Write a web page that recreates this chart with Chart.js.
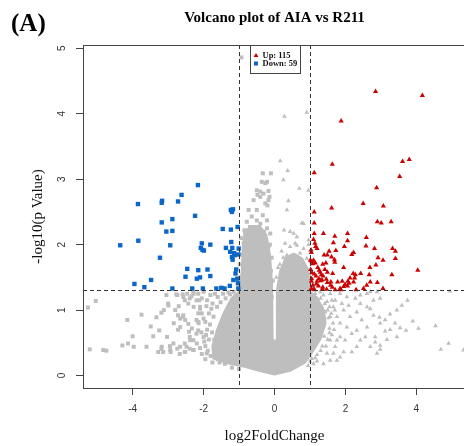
<!DOCTYPE html>
<html>
<head>
<meta charset="utf-8">
<script src="https://cdn.jsdelivr.net/npm/chart.js@4.4.1/dist/chart.umd.min.js"></script>
<style>
  html, body { margin: 0; padding: 0; background: #fff; overflow: hidden; }
  #wrap { position: absolute; left: 0; top: 0; width: 470px; height: 446px; }
</style>
</head>
<body>
<div id="wrap"><canvas id="volcano" width="470" height="446"></canvas></div>
<script>
// thresholds used for the dashed lines
const fcCutoff = 1;
const pCutoff = 1.3;

const xTicks = [-4, -2, 0, 2, 4];
const yTicks = [0, 1, 2, 3, 4, 5];

const upCount = 115;
const downCount = 59;

// significant, up-regulated genes [log2FC, -log10 p]
const upPoints = [
  [2.85, 4.34], [4.17, 4.28], [1.88, 3.89], [1.63, 3.23], [3.61, 3.27], [3.80, 3.30],
  [1.12, 3.10], [3.53, 3.04], [2.88, 2.87], [2.50, 2.63], [3.07, 2.59], [1.61, 2.56],
  [1.12, 2.50], [1.12, 2.33], [2.90, 2.35], [3.01, 2.33], [3.29, 2.35], [1.12, 2.17],
  [1.38, 2.17], [1.70, 2.13], [2.06, 2.17], [2.59, 2.11], [1.10, 2.08], [1.14, 2.02],
  [1.16, 1.97], [1.66, 2.03], [2.06, 2.06], [2.58, 1.98], [1.97, 1.97], [1.20, 1.94],
  [2.82, 1.94], [3.33, 1.94], [3.41, 1.90], [1.54, 1.90], [1.73, 1.91], [1.03, 1.92],
  [1.40, 1.84], [1.49, 1.84], [1.61, 1.81], [1.69, 1.77], [2.18, 1.85], [2.23, 1.88],
  [2.92, 1.80], [3.06, 1.76], [3.41, 1.79], [1.01, 1.76], [1.05, 1.74], [1.10, 1.76],
  [1.15, 1.72], [1.08, 1.71], [1.36, 1.70], [1.45, 1.72], [1.70, 1.73], [2.86, 1.69],
  [1.95, 1.65], [2.69, 1.65], [4.04, 1.61], [1.22, 1.65], [1.26, 1.61], [1.29, 1.58],
  [1.06, 1.57], [1.12, 1.55], [1.32, 1.54], [1.37, 1.52], [1.49, 1.58], [1.64, 1.56],
  [2.22, 1.56], [2.28, 1.54], [2.43, 1.56], [2.67, 1.54], [3.31, 1.54], [2.13, 1.49],
  [2.26, 1.49], [1.04, 1.44], [1.20, 1.44], [1.34, 1.46], [1.46, 1.47], [1.49, 1.42],
  [1.59, 1.43], [1.78, 1.43], [1.91, 1.44], [2.07, 1.44], [2.23, 1.43], [2.70, 1.43],
  [2.90, 1.42], [1.18, 1.40], [1.24, 1.37], [1.36, 1.35], [1.63, 1.35], [1.85, 1.33],
  [1.99, 1.39], [2.10, 1.41], [2.06, 1.37], [1.04, 1.33], [1.10, 1.32], [1.35, 1.32],
  [1.47, 1.32], [1.71, 1.31], [1.87, 1.31], [2.30, 1.31], [2.51, 1.33], [3.06, 1.33],
  [1.05, 1.48], [1.08, 1.38], [1.25, 1.48], [1.17, 1.52], [1.02, 1.62], [1.30, 1.45],
  [1.58, 1.38], [1.95, 1.36], [1.04, 1.88], [1.13, 1.31], [2.60, 1.38], [1.42, 1.62]
];

// significant, down-regulated genes
const downPoints = [
  [-2.16, 2.91], [-2.62, 2.76], [-3.17, 2.67], [-3.18, 2.64], [-2.72, 2.66], [-3.85, 2.62],
  [-2.24, 2.44], [-1.23, 2.53], [-1.17, 2.54], [-1.20, 2.50], [-2.88, 2.39], [-3.18, 2.34],
  [-3.05, 2.20], [-2.88, 2.21], [-1.46, 2.24], [-1.23, 2.23], [-1.04, 2.27], [-3.84, 2.06],
  [-4.35, 1.99], [-2.94, 1.99], [-2.05, 2.02], [-1.81, 2.00], [-1.22, 2.04], [-2.08, 1.95],
  [-2.03, 1.92], [-1.99, 1.91], [-1.37, 1.95], [-1.19, 1.95], [-1.01, 1.94], [-1.25, 1.89],
  [-1.14, 1.87], [-1.20, 1.81], [-1.12, 1.84], [-1.18, 1.77], [-1.02, 1.85], [-3.23, 1.80],
  [-2.46, 1.63], [-2.15, 1.61], [-1.89, 1.62], [-2.51, 1.51], [-2.19, 1.48], [-2.10, 1.50],
  [-1.81, 1.52], [-3.48, 1.46], [-3.95, 1.40], [-3.67, 1.35], [-2.88, 1.33], [-2.32, 1.33],
  [-2.02, 1.33], [-1.64, 1.33], [-1.41, 1.33], [-1.26, 1.37], [-1.16, 1.46], [-1.05, 1.48],
  [-1.02, 1.33], [-1.08, 1.62], [-1.10, 1.56], [-1.03, 1.41], [-1.50, 1.34]
];

// not significant genes that stand apart from the dense centre
const nsPoints = [
  [-5.26, 1.04], [-5.04, 1.14], [-5.21, 0.40], [-4.83, 0.39], [-4.74, 0.38],
  [-4.15, 0.85], [-3.75, 0.93], [-4.00, 0.60], [-4.29, 0.46], [-4.13, 0.49], [-3.97, 0.44],
  [-3.61, 0.44], [-3.49, 0.75], [-3.42, 0.60], [-3.25, 0.69], [-3.33, 0.89], [-3.19, 0.96],
  [-3.12, 1.00], [-3.00, 1.10], [-3.05, 1.23], [-2.74, 1.23], [-2.59, 1.24], [-2.46, 1.25],
  [-2.34, 1.21], [-2.70, 1.06], [-2.84, 0.80], [-2.72, 0.92], [-2.58, 0.90], [-2.72, 0.70],
  [-2.43, 0.79], [-3.19, 0.41], [-3.14, 0.36], [-3.28, 0.36], [-2.95, 0.45], [-2.93, 0.36],
  [-2.74, 0.41], [-2.67, 0.33], [-2.53, 0.49], [-2.48, 0.44], [-2.39, 0.41], [-2.53, 0.36],
  [-2.29, 0.39], [-2.41, 0.67], [-2.39, 0.59], [-2.29, 0.54], [-2.20, 0.64], [-2.15, 0.69],
  [-2.20, 0.85], [-2.15, 0.82], [-2.53, 1.15], [-2.43, 1.10], [-2.39, 1.18], [-2.20, 1.15],
  [-2.10, 1.05], [-2.15, 0.95], [-2.29, 1.28], [-2.15, 1.25], [-2.77, 1.24], [-2.57, 1.20],
  [-2.28, 1.25], [-2.05, 1.18], [-1.81, 1.23], [-2.99, 1.07], [-2.80, 1.00], [-2.57, 0.92],
  [-2.28, 1.05], [-2.10, 1.02], [-2.66, 0.87], [-2.52, 0.85], [-2.66, 0.74], [-2.33, 0.72],
  [-2.14, 0.80], [-2.00, 0.87], [-3.03, 0.59], [-2.85, 0.49], [-2.66, 0.44], [-2.38, 0.54],
  [-2.19, 0.49], [-2.00, 0.59], [-3.18, 0.44], [-2.94, 0.39], [-2.52, 0.36], [-2.28, 0.39],
  [-1.91, 0.34], [-1.95, 0.45], [-1.90, 0.70], [-1.85, 0.95], [-1.75, 1.10], [-1.60, 1.20],
  [-1.45, 1.25], [-1.30, 1.27], [-1.15, 1.28], [-1.90, 1.15], [-2.00, 1.28], [-1.70, 0.55],
  [-1.95, 0.25], [-1.60, 0.25], [-1.40, 0.18],
  [-1.80, 0.30], [-1.88, 0.38], [-2.05, 0.33], [-2.10, 0.42], [-1.98, 0.52], [-2.06, 0.66],
  [-1.93, 0.62], [-1.82, 0.78], [-1.95, 0.82], [-2.05, 0.95], [-1.72, 0.90], [-1.78, 1.02],
  [-1.62, 1.05], [-1.92, 1.06], [-1.68, 1.25], [-1.52, 1.12], [-1.38, 1.18], [-1.25, 1.24],
  [-1.10, 1.22], [-2.12, 1.15], [-1.75, 0.20], [-1.55, 0.20], [-1.20, 0.12], [-1.00, 0.10],
  [-1.50, 0.30], [-1.65, 0.40], [-1.85, 0.55], [-1.76, 0.66],
  [-0.93, 4.86], [-0.33, 3.09], [-0.10, 3.09], [-0.36, 2.96], [-0.21, 2.96], [-0.26, 2.94],
  [-0.50, 2.83], [-0.40, 2.81], [-0.31, 2.78], [-0.48, 2.76], [-0.17, 2.82], [-0.14, 2.73],
  [-0.40, 2.73], [-0.17, 2.68], [-0.26, 2.63], [-0.20, 2.60], [-0.59, 2.68], [-0.73, 2.53],
  [-0.50, 2.53], [-0.33, 2.45], [-0.64, 2.43], [-0.78, 2.35], [-0.50, 2.37], [-0.69, 2.27],
  [-0.40, 2.32], [-0.21, 2.37], [-0.54, 2.20], [-0.83, 2.17], [-0.36, 2.17], [-0.21, 2.25],
  [-0.73, 2.07], [-0.50, 2.07], [-0.26, 2.07], [-0.12, 2.17], [-0.87, 2.02], [-0.64, 1.97],
  [-0.40, 1.97], [-0.17, 1.97], [-0.95, 1.85], [-0.97, 1.50], [-0.10, 1.60], [-0.08, 1.20],
  [-0.98, 1.70], [-0.94, 2.10], [-0.85, 2.22], [-0.60, 2.25], [-0.30, 2.20], [-0.13, 2.00],
  [-0.08, 1.80], [-0.05, 1.45],
  [0.28, 3.96], [0.91, 4.02], [0.16, 3.28], [0.37, 3.13], [0.25, 2.99], [0.70, 2.86],
  [0.96, 2.83], [0.39, 2.67], [0.35, 2.53], [0.77, 2.33], [0.82, 2.32], [0.27, 2.22],
  [0.44, 2.20], [0.54, 2.17], [0.63, 2.12], [0.58, 2.02], [0.30, 2.02], [0.44, 1.97],
  [0.96, 2.07], [0.20, 1.90], [0.63, 1.99], [0.82, 1.94], [0.96, 2.00], [0.35, 1.84],
  [0.54, 1.81], [0.72, 1.87], [0.91, 1.79], [0.49, 1.69], [0.82, 1.66], [0.15, 1.70],
  [0.97, 1.55], [0.05, 1.50], [0.10, 1.65], [0.25, 1.80], [0.50, 1.78], [0.70, 1.75],
  [0.90, 1.62], [0.98, 1.42], [0.12, 1.35],
  [4.95, 1.29], [3.75, 1.15], [3.59, 1.07], [3.45, 1.00], [3.26, 0.94], [3.90, 0.83],
  [4.06, 0.72], [4.54, 0.76], [4.91, 0.49], [4.69, 0.40], [5.33, 0.39], [3.71, 0.69],
  [3.54, 0.73], [3.45, 0.59], [3.26, 0.70], [3.40, 0.80], [3.12, 0.85], [2.98, 0.46],
  [2.98, 0.40], [2.84, 0.51], [2.84, 0.59], [3.17, 0.55], [3.12, 0.68], [2.98, 0.80],
  [2.96, 0.89], [2.79, 0.92], [2.70, 1.02], [2.98, 1.18], [2.79, 1.15], [2.61, 1.25],
  [2.42, 1.23], [2.70, 1.28], [2.89, 1.28], [2.61, 1.05], [2.42, 1.10], [2.28, 1.18],
  [2.32, 0.97], [2.46, 0.85], [2.61, 0.74], [2.09, 1.07], [2.13, 0.90], [1.95, 1.00],
  [1.85, 0.80], [2.04, 0.74], [2.18, 0.64], [2.32, 0.69], [2.42, 0.54], [2.56, 0.59],
  [2.70, 0.44], [2.89, 0.34], [2.32, 0.44], [2.18, 0.36], [1.99, 0.54], [1.85, 0.59],
  [1.71, 0.44], [1.76, 0.54], [1.57, 0.54], [1.95, 0.36], [1.85, 0.28], [1.66, 0.34],
  [1.57, 0.23], [1.76, 0.23], [1.48, 0.34], [1.38, 0.18], [1.71, 1.15], [1.85, 1.25],
  [2.04, 1.20], [1.57, 1.25], [1.66, 1.05], [1.90, 1.10], [1.76, 0.90], [1.57, 0.90],
  [1.29, 1.28], [1.38, 1.23], [1.20, 1.18], [1.48, 1.13], [1.34, 1.05], [1.15, 1.00],
  [1.43, 0.97], [1.24, 0.87], [1.10, 1.10], [1.55, 1.05], [1.60, 0.95], [1.65, 0.80],
  [1.55, 0.65], [1.45, 0.45], [1.30, 0.38], [1.15, 0.27], [1.00, 0.22],
  [1.05, 0.26], [1.20, 0.32], [1.35, 0.45], [1.50, 0.55], [1.55, 0.72], [1.52, 0.88],
  [1.50, 1.00], [1.42, 1.10], [1.30, 1.18], [1.15, 1.25], [1.05, 1.20], [1.62, 0.62],
  [1.68, 0.70], [1.70, 1.00], [1.62, 1.15], [1.40, 0.60], [1.20, 0.22], [0.95, 0.15],
  [1.10, 0.18]
];

// outline of the solid, overplotted centre of the grey cloud
const coreOutline = [
  [0, 0.0], [-0.45, 0.06], [-0.85, 0.12], [-1.3, 0.17], [-1.75, 0.25], [-1.78, 0.45],
  [-1.65, 0.7], [-1.47, 0.95], [-1.25, 1.18], [-1.02, 1.29], [-0.95, 1.6], [-0.92, 2.0],
  [-0.85, 2.22], [-0.65, 2.3], [-0.4, 2.3], [-0.2, 2.15], [-0.1, 1.85], [-0.04, 1.4],
  [-0.025, 0.55], [0.025, 0.55], [0.04, 1.3], [0.13, 1.6], [0.3, 1.82], [0.55, 1.88],
  [0.8, 1.8], [0.98, 1.62], [1.02, 1.29], [1.22, 1.2], [1.42, 1.0], [1.47, 0.8],
  [1.32, 0.55], [1.07, 0.33], [0.87, 0.18], [0.45, 0.06]
];

const sans = "'Liberation Sans', Arial, sans-serif";
const serif = "'Liberation Serif', 'Times New Roman', serif";
const grey = '#bebebe';
const red = '#cc0000';
const blue = '#0a66c8';

const toXY = p => ({ x: p[0], y: p[1] });

const extras = {
  id: 'extras',
  afterDatasetsDraw(chart) {
    const { ctx, chartArea: a, scales: { x, y } } = chart;
    ctx.save();
    ctx.strokeStyle = '#333';
    ctx.lineWidth = 1;
    ctx.setLineDash([4, 3]);
    ctx.beginPath();
    [-fcCutoff, fcCutoff].forEach(v => {
      const px = Math.round(x.getPixelForValue(v)) + 0.5;
      ctx.moveTo(px, a.top);
      ctx.lineTo(px, a.bottom);
    });
    const py = Math.round(y.getPixelForValue(pCutoff)) + 0.5;
    ctx.moveTo(a.left, py);
    ctx.lineTo(a.right, py);
    ctx.stroke();
    ctx.setLineDash([]);
    ctx.strokeStyle = '#444';
    ctx.strokeRect(a.left + 0.5, a.top + 0.5, a.right - a.left, a.bottom - a.top);
    ctx.restore();
  },
  afterDraw(chart) {
    const { ctx, chartArea: a, scales: { y } } = chart;
    ctx.save();
    // panel letter and title
    ctx.fillStyle = '#000';
    ctx.font = 'bold 25px ' + serif;
    ctx.textAlign = 'left';
    ctx.textBaseline = 'alphabetic';
    ctx.fillText('(A)', 11, 31);
    ctx.font = 'bold 15px ' + serif;
    ctx.textAlign = 'center';
    ctx.fillText('Volcano plot of AIA vs R211', (a.left + a.right) / 2, 22);

    // rotated y tick labels, R style
    ctx.font = '10px ' + sans;
    ctx.fillStyle = '#333';
    ctx.textBaseline = 'middle';
    yTicks.forEach(v => {
      ctx.save();
      ctx.translate(a.left - 21, y.getPixelForValue(v));
      ctx.rotate(-Math.PI / 2);
      ctx.fillText(String(v), 0, 0);
      ctx.restore();
    });

    // legend box at the top of the plot
    const w = 50, h = 28;
    const lx = Math.round((a.left + a.right) / 2 - w / 2) + 0.5;
    const ly = a.top + 0.5;
    ctx.fillStyle = '#fff';
    ctx.fillRect(lx, ly, w, h);
    ctx.strokeStyle = '#444';
    ctx.lineWidth = 1;
    ctx.strokeRect(lx, ly, w, h);
    ctx.fillStyle = red;
    ctx.beginPath();
    ctx.moveTo(lx + 5.5, ly + 7.5);
    ctx.lineTo(lx + 8, ly + 11.5);
    ctx.lineTo(lx + 3, ly + 11.5);
    ctx.closePath();
    ctx.fill();
    ctx.fillStyle = blue;
    ctx.fillRect(lx + 3.5, ly + 16, 4, 4);
    ctx.fillStyle = '#111';
    ctx.font = 'bold 8.5px ' + serif;
    ctx.textAlign = 'left';
    ctx.fillText('Up: ' + upCount, lx + 12, ly + 10);
    ctx.fillText('Down: ' + downCount, lx + 12, ly + 18.5);
    ctx.restore();
  }
};

new Chart(document.getElementById('volcano'), {
  type: 'scatter',
  data: {
    datasets: [
      {
        label: 'Up',
        data: upPoints.map(toXY),
        pointStyle: 'triangle',
        pointRadius: 3,
        backgroundColor: red,
        borderWidth: 0
      },
      {
        label: 'Down',
        data: downPoints.map(toXY),
        pointStyle: 'rect',
        pointRadius: 3.1,
        backgroundColor: blue,
        borderWidth: 0
      },
      {
        label: 'NS down',
        data: nsPoints.filter(p => p[0] < 0).map(toXY),
        pointStyle: 'rect',
        pointRadius: 2.8,
        backgroundColor: grey,
        borderWidth: 0
      },
      {
        label: 'NS up',
        data: nsPoints.filter(p => p[0] >= 0).map(toXY),
        pointStyle: 'triangle',
        pointRadius: 2.7,
        backgroundColor: grey,
        borderWidth: 0
      },
      {
        label: 'NS core',
        data: coreOutline.map(toXY),
        showLine: true,
        fill: 'shape',
        tension: 0,
        pointRadius: 0,
        borderWidth: 0,
        borderColor: 'rgba(0,0,0,0)',
        backgroundColor: grey
      }
    ]
  },
  options: {
    responsive: false,
    animation: false,
    events: [],
    layout: { padding: { top: 45, right: 4, bottom: 0, left: 0 } },
    plugins: {
      legend: { display: false },
      title: { display: false },
      tooltip: { enabled: false }
    },
    scales: {
      x: {
        type: 'linear',
        min: -5.4,
        max: 5.4,
        afterBuildTicks: axis => { axis.ticks = xTicks.map(v => ({ value: v })); },
        afterFit: scale => { scale.height = 58; },
        border: { display: false },
        grid: { drawOnChartArea: false, drawTicks: true, tickLength: 7, color: '#444' },
        ticks: { font: { family: sans, size: 10 }, color: '#333', padding: 8, maxRotation: 0 },
        title: {
          display: true,
          text: 'log2FoldChange',
          font: { family: serif, size: 15 },
          color: '#111',
          padding: { top: 0, bottom: 0.5 }
        }
      },
      y: {
        type: 'linear',
        min: -0.19,
        max: 5.05,
        afterBuildTicks: axis => { axis.ticks = yTicks.map(v => ({ value: v })); },
        afterFit: scale => { scale.width = 83; },
        border: { display: false },
        grid: { drawOnChartArea: false, drawTicks: true, tickLength: 7, color: '#444' },
        ticks: { display: false },
        title: {
          display: true,
          text: '-log10(p Value)',
          font: { family: serif, size: 15 },
          color: '#111',
          padding: { top: 29, bottom: 0 }
        }
      }
    }
  },
  plugins: [extras]
});
</script>
</body>
</html>
